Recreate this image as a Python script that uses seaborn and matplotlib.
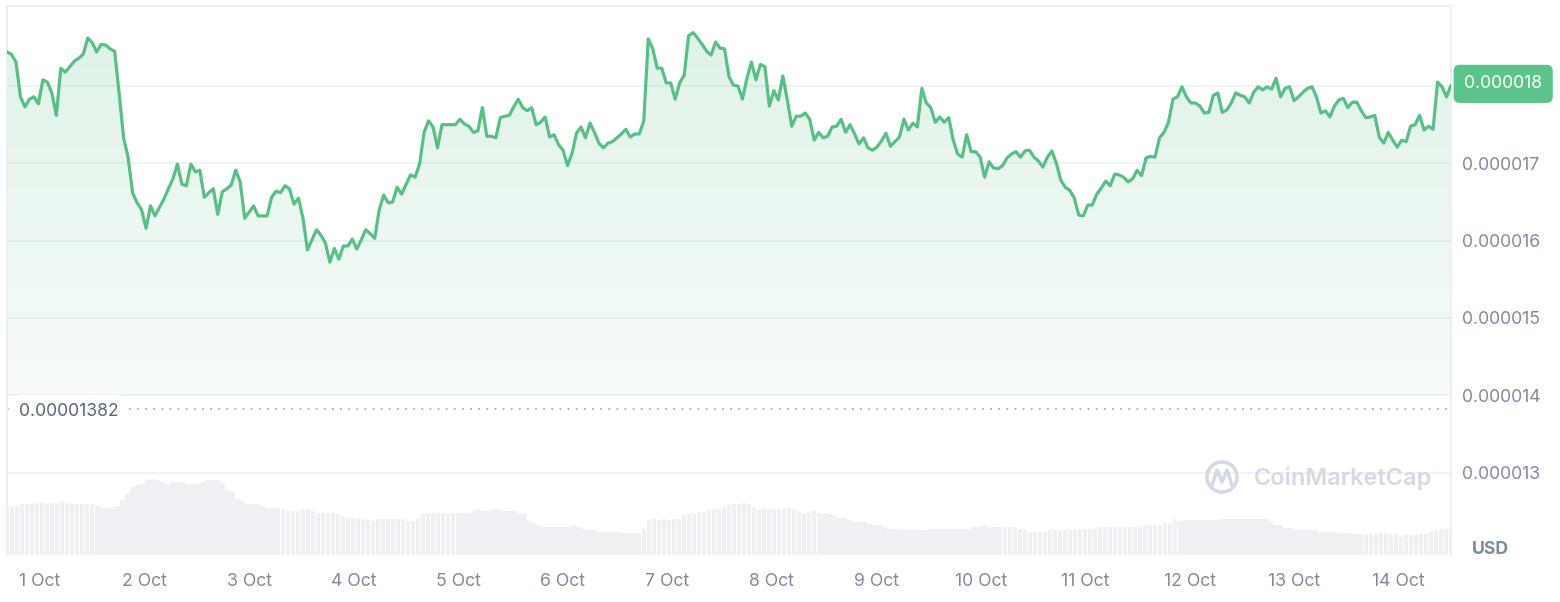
import numpy as np
import pandas as pd
import matplotlib
matplotlib.use('Agg')
import matplotlib.pyplot as plt
import matplotlib.dates as mdates
import matplotlib.transforms as mtransforms
from matplotlib.patches import Circle
from matplotlib.lines import Line2D
import seaborn as sns

# precio (en unidades de 1e-6 USD)
price = [
    18.44, 18.41, 18.31, 17.86, 17.73, 17.83, 17.86, 17.77, 18.08, 18.05,
    17.91, 17.62, 18.23, 18.18, 18.25, 18.32, 18.36, 18.41, 18.62, 18.56,
    18.44, 18.54, 18.53, 18.48, 18.45, 17.91, 17.33, 17.08, 16.62, 16.49,
    16.40, 16.16, 16.45, 16.32, 16.43, 16.54, 16.67, 16.80, 16.99, 16.73,
    16.71, 16.99, 16.89, 16.91, 16.56, 16.62, 16.67, 16.34, 16.63, 16.67,
    16.72, 16.91, 16.76, 16.29, 16.37, 16.45, 16.32, 16.32, 16.32, 16.56,
    16.64, 16.62, 16.71, 16.67, 16.47, 16.55, 16.29, 15.88, 16.01, 16.14,
    16.07, 15.97, 15.72, 15.90, 15.76, 15.93, 15.93, 16.02, 15.89, 16.01,
    16.14, 16.09, 16.03, 16.40, 16.59, 16.49, 16.50, 16.69,
    16.60, 16.73, 16.85, 16.82, 16.99, 17.40, 17.55, 17.47, 17.20, 17.50,
    17.50, 17.50, 17.50, 17.57, 17.51, 17.48, 17.40, 17.42, 17.72, 17.35,
    17.35, 17.33, 17.59, 17.61, 17.62, 17.73, 17.83, 17.72, 17.68, 17.72,
    17.50, 17.53, 17.60, 17.34, 17.37, 17.24, 17.17, 16.97, 17.13, 17.39,
    17.47, 17.33, 17.52, 17.40, 17.26, 17.20, 17.26, 17.28, 17.33, 17.38,
    17.44, 17.34, 17.38, 17.38, 17.55, 18.61, 18.48, 18.23, 18.23, 18.04,
    18.04, 17.83, 18.04, 18.14, 18.65, 18.69, 18.62, 18.54, 18.45, 18.40,
    18.57, 18.49, 18.48, 18.12, 18.01, 18.00, 17.83, 18.10, 18.31, 18.08,
    18.28, 18.25, 17.74, 17.94, 17.82, 18.13,
    17.82, 17.48, 17.61, 17.61, 17.65, 17.57, 17.30, 17.40, 17.33, 17.35,
    17.47, 17.48, 17.57, 17.40, 17.50, 17.38, 17.25, 17.33, 17.20, 17.17,
    17.21, 17.29, 17.39, 17.22, 17.28, 17.34, 17.57, 17.43, 17.52, 17.47,
    17.97, 17.78, 17.72, 17.53, 17.60, 17.53, 17.59, 17.30, 17.12, 17.08,
    17.37, 17.15, 17.15, 17.08, 16.82, 17.02, 16.94, 16.93, 16.97, 17.07,
    17.12, 17.15, 17.08, 17.16, 17.17, 17.08, 17.03, 16.95, 17.08, 17.16,
    17.00, 16.78, 16.69, 16.65, 16.55, 16.33, 16.32, 16.46, 16.46, 16.60,
    16.68, 16.77, 16.71, 16.86, 16.85, 16.82, 16.76, 16.80, 16.91, 16.84,
    17.07, 17.09, 17.08, 17.33, 17.40, 17.53, 17.83, 17.86,
    17.99, 17.86, 17.78, 17.78, 17.74, 17.65, 17.66, 17.88, 17.91, 17.66,
    17.69, 17.78, 17.91, 17.88, 17.86, 17.78, 17.92, 17.99, 17.95, 17.99,
    17.96, 18.10, 17.86, 17.97, 17.99, 17.81, 17.86, 17.92, 17.97, 17.99,
    17.86, 17.65, 17.68, 17.60, 17.74, 17.82, 17.84, 17.72, 17.79, 17.79,
    17.68, 17.59, 17.60, 17.62, 17.34, 17.26, 17.40, 17.30, 17.21, 17.30,
    17.28, 17.48, 17.50, 17.62, 17.43, 17.48, 17.44, 18.05, 17.99, 17.86,
    18.01,
]

# volumen relativo (sin escala en el gráfico)
vol = [
    49, 49, 49, 51, 51, 51, 52, 52, 51, 52, 52, 54, 52, 51, 51, 51, 51, 51, 49, 47,
    47, 46, 49, 55, 61, 68, 70, 71, 75, 76, 75, 73, 71, 73, 73, 73, 71, 71, 71, 73,
    75, 75, 75, 72, 65, 63, 56, 54, 51, 51, 51, 49, 47, 47, 47, 46, 44, 44, 44, 46,
    46, 44, 42, 42, 41, 42, 41, 39, 37, 37, 36, 36, 35, 34, 36, 36, 36, 36, 36, 36,
    34, 34, 36, 41, 42, 42, 42, 42, 42, 42, 42, 42, 42, 44, 46, 44, 44, 46, 46,
    44, 44, 44, 42, 41, 34, 32, 30, 28, 28, 28, 28, 28, 28, 30, 28, 26, 25, 25, 23,
    23, 23, 23, 23, 22, 22, 22, 22, 26, 35, 36, 35, 36, 35, 36, 36, 40, 41, 41, 43,
    43, 45, 46, 46, 48, 50, 51, 51, 52, 51, 47, 45, 46, 46, 46, 46, 46, 47, 46, 44,
    42, 42, 44, 42, 42, 41, 39, 37, 37, 35, 33, 33, 33, 31, 30, 30, 28, 26, 26, 26,
    25, 25, 25, 25, 25, 26, 26, 26, 26, 26, 26, 26, 26, 26, 28, 28,
    30, 28, 28, 28, 28, 28, 28, 26, 25, 23, 23, 23, 23, 25, 25, 25, 25, 25, 25, 26,
    26, 26, 26, 28, 28, 28, 28, 28, 28, 28, 28, 28, 30, 30, 30, 30, 32, 32, 36, 34,
    35, 35, 35, 35, 35, 35, 35, 36, 36, 36, 36, 36, 36, 36, 36, 36, 36, 34, 30, 30,
    27, 27, 25, 25, 25, 25, 25, 23, 23, 23, 23, 22, 22, 22, 21, 21, 21, 21, 21, 22,
    22, 21, 21, 18, 20, 20, 20, 21, 21, 23, 25, 26, 26, 26,
]

start = pd.Timestamp('2023-09-30 16:25')
end = pd.Timestamp('2023-10-14 12:00')
day_ticks = pd.date_range('2023-10-01', '2023-10-14', freq='D')
day_labels = [f"{d.day} Oct" for d in day_ticks]
price_ticks = [13, 14, 15, 16, 17, 18]
low_ref = 13.82
fill_base = 14.0

GREEN = '#58bf85'
GREY = '#808a9d'
DARK = '#58667e'
GRID = '#eff2f5'
VOLC = '#eff0f4'

W, H = 1560, 602
sns.set_style('white')
plt.rcParams['font.family'] = ['Inter', 'DejaVu Sans']
FS = 12.7

t = pd.date_range(start, end, periods=len(price))
p = np.array(price) * 1e-6
tv = pd.date_range(start, end, periods=len(vol))
df = pd.DataFrame({'t': t, 'price': p})

fig = plt.figure(figsize=(W / 100, H / 100), dpi=100)
ax = fig.add_axes([7 / W, 1 - 555 / H, (1451 - 7) / W, (555 - 6) / H])

# volumen abajo, eje aparte
ax2 = ax.twinx()
step = (tv[1] - tv[0]) * 0.9
ax2.bar(tv, vol, width=step, color=VOLC, align='center', linewidth=0)
ax2.set_ylim(0, 549)
ax2.set_yticks([])
for s in ax2.spines.values():
    s.set_visible(False)

# relleno degradado
xnum = mdates.date2num(t)
fill = ax.fill_between(xnum, p, fill_base * 1e-6, color='none', lw=0)
grad = np.zeros((100, 1, 4))
g = np.array([88, 190, 130]) / 255
grad[:, 0, :3] = g
grad[:, 0, 3] = np.linspace(0.05, 0.19, 100)
img = ax.imshow(grad, extent=[xnum[0], xnum[-1], fill_base * 1e-6, max(p)],
                aspect='auto', origin='lower', zorder=1)
img.set_clip_path(fill.get_paths()[0], transform=ax.transData)

sns.lineplot(data=df, x='t', y='price', ax=ax, color=GREEN, lw=2.3, zorder=3)

ax.set_xlim(xnum[0], xnum[-1])
ax.set_ylim(11.933e-6, 19.035e-6)

ax.axhline(low_ref * 1e-6, color='#a6adbd', lw=1.3, ls=(0, (1, 3.5)), zorder=2)

ax.set_yticks([v * 1e-6 for v in price_ticks])
ax.set_yticklabels([f"{v * 1e-6:.6f}" if v != 18 else '' for v in price_ticks])
ax.yaxis.tick_right()
ax.grid(axis='y', color=GRID, lw=1.3)
ax.set_axisbelow(True)
ax.set_xticks(day_ticks)
ax.set_xticklabels(day_labels)
ax.tick_params(axis='y', length=0, pad=8, labelsize=FS, labelcolor=GREY)
ax.tick_params(axis='x', length=0, pad=13, labelsize=FS, labelcolor=GREY)
ax.set_xlabel('')
ax.set_ylabel('')
for k in ['top', 'left', 'right']:
    ax.spines[k].set_color('#eceef2')
    ax.spines[k].set_linewidth(1.3)
ax.spines['bottom'].set_visible(False)

# etiqueta precio actual
ax.annotate(f"{p[-1]:.6f}", xy=(1, p[-1]), xycoords=('axes fraction', 'data'),
            xytext=(9.5, 1), textcoords='offset points', ha='left', va='center',
            fontsize=FS, color='white',
            bbox=dict(boxstyle='round,pad=0.6,rounding_size=0.35', fc='#5cc489', ec='none'),
            annotation_clip=False)

# etiqueta mínimo
ax.annotate(f"{low_ref * 1e-6:.8f}", xy=(0, low_ref * 1e-6), xycoords=('axes fraction', 'data'),
            xytext=(8.5, -1.5), textcoords='offset points', ha='left', va='center',
            fontsize=FS, color=DARK,
            bbox=dict(boxstyle='round,pad=0.45,rounding_size=0.6', fc='white', ec='none'),
            zorder=4)

fig.text(1490 / W, 1 - 549 / H, 'USD', ha='center', va='center',
         fontsize=12.7, fontweight='bold', color=GREY)

# marca de agua
WM = '#d3d9e5'
fig.text(1254 / W, 1 - 479 / H, 'CoinMarketCap', ha='left', va='center',
         fontsize=17, fontweight='semibold', color=WM)
idt = mtransforms.IdentityTransform()
fig.patches.append(Circle((1222, H - 477), 15, transform=idt, fill=False,
                          ec=WM, lw=2.6, figure=fig))
fig.lines.append(Line2D([1212, 1217, 1222, 1227, 1232], [H - 485, H - 470, H - 482, H - 470, H - 485],
                        transform=idt, color=WM, lw=2.6, figure=fig))

fig.savefig('out.png', dpi=100, facecolor='white')
